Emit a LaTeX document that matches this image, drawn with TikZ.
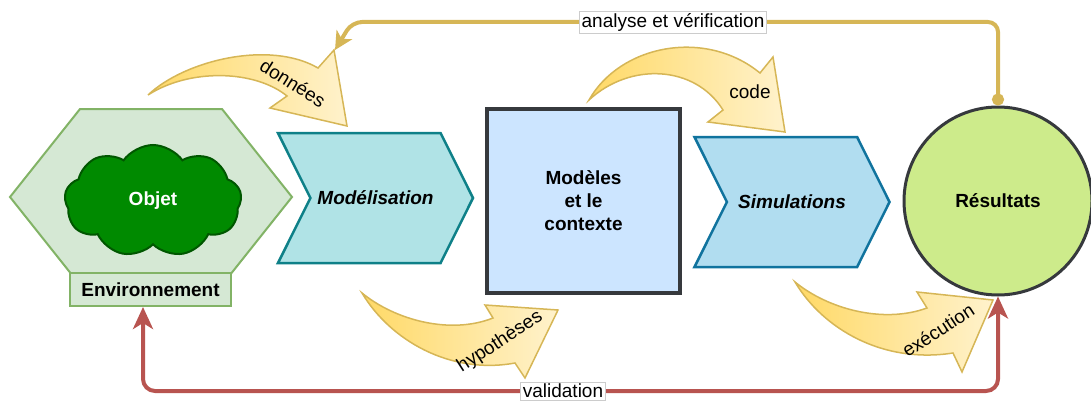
\documentclass[tikz,border=0pt]{standalone}
\usepackage{fontspec}
\setmainfont{Liberation Sans}
\usepackage{tikz}
\usetikzlibrary{arrows.meta,shapes.symbols}
\tikzset{every picture/.style={/utils/exec={\fontsize{19}{23}\selectfont}}}

\definecolor{envfill}{HTML}{D5E8D4}
\definecolor{envdraw}{HTML}{82B366}
\definecolor{objfill}{HTML}{008A00}
\definecolor{objdraw}{HTML}{005700}
\definecolor{modfill}{HTML}{B0E3E6}
\definecolor{moddraw}{HTML}{0E8088}
\definecolor{boxfill}{HTML}{CCE5FF}
\definecolor{boxdraw}{HTML}{36393D}
\definecolor{simfill}{HTML}{B1DDF0}
\definecolor{simdraw}{HTML}{10739E}
\definecolor{resfill}{HTML}{CDEB8B}
\definecolor{yfonce}{HTML}{FFD966}
\definecolor{yclair}{HTML}{FFF2CC}
\definecolor{ybord}{HTML}{D6B656}
\definecolor{rouge}{HTML}{B85450}

\tikzset{
  chevron/.style={signal, signal to=east, signal from=west, signal pointer angle=127,
    minimum width=195, minimum height=130, line width=2.5, font=\bfseries\itshape},
  envbox/.style={rectangle, fill=envfill, draw=envdraw, line width=2,
    minimum width=161, minimum height=33, inner sep=0, font=\bfseries},
  nuage/.style={cloud, cloud puffs=9, cloud puff arc=110, aspect=1.6, fill=objfill, draw=objdraw,
    line width=2, minimum width=177, minimum height=112, text=white, font=\bfseries},
  boite/.style={rectangle, fill=boxfill, draw=boxdraw, line width=3.5,
    minimum width=193, minimum height=184, align=center, font=\bfseries},
  cercle/.style={circle, fill=resfill, draw=boxdraw, line width=3,
    minimum size=188, font=\bfseries},
  courbe/.style={left color=yfonce, right color=yclair, draw=ybord, line width=1.5},
  etiquette/.style={fill=white, draw=gray!40, line width=0.8, inner sep=2},
  verif/.style={draw=ybord, line width=4, rounded corners=10,
    {Circle[length=12]}-{Stealth[length=18,width=18,inset=5]}},
  valid/.style={draw=rouge, line width=4, rounded corners=12,
    {Stealth[length=22,width=20,inset=6]}-{Stealth[length=22,width=20,inset=6]}},
}

\begin{document}
\begin{tikzpicture}[x=1pt,y=-1pt]
  \useasboundingbox (0,0) rectangle (1091,404);

  % environnement et objet
  \filldraw[fill=envfill, draw=envdraw, line width=2]
    (10,197) -- (80,109) -- (222,109) -- (292,197) -- (222,285) -- (80,285) -- cycle;
  \node[nuage] (obj) at (153,201) {Objet};
  \node[envbox] (env) at (150.5,289.5) {Environnement};

  % etapes
  \node[chevron, fill=modfill, draw=moddraw] (modl) at (375.5,198) {Modélisation};
  \node[boite] (mod) at (583.5,201) {Modèles\\et le\\contexte};
  \node[chevron, fill=simfill, draw=simdraw] (sim) at (792,202) {Simulations};
  \node[cercle] (res) at (998,201) {Résultats};

  % fleches courbes
  \shadedraw[courbe] (148,95) .. controls (185,60) and (270,40) .. (318,68)
    -- (334,50) -- (347,126) -- (270,108) -- (287,96)
    .. controls (255,70) and (190,68) .. (148,95) -- cycle;
  \node[rotate=-32] (tdon) at (293,83) {données};

  \shadedraw[courbe] (589,100) .. controls (620,45) and (705,28) .. (760,73)
    -- (773,57) -- (785,132) -- (708,122) -- (723,110)
    .. controls (695,65) and (630,62) .. (589,100) -- cycle;
  \node (tcode) at (750,92) {code};

  \shadedraw[courbe] (362,293) .. controls (390,340) and (450,375) .. (515,363)
    -- (525,378) -- (558,310) -- (485,305) -- (493,318)
    .. controls (450,335) and (395,320) .. (362,293) -- cycle;
  \node[rotate=33] (thyp) at (500,342) {hypothèses};

  \shadedraw[courbe] (795,282) .. controls (823,329) and (883,364) .. (953,353)
    -- (962,372) -- (993,300) -- (917,292) -- (927,308)
    .. controls (883,324) and (828,309) .. (795,282) -- cycle;
  \node[rotate=33] (texe) at (938,330) {exécution};

  % retours
  \coordinate (avcoin) at (352,22);
  \coordinate (avfin) at (335,50);
  \draw[verif] (res.north) |- (avcoin) -- (avfin);
  \node[etiquette] (lav) at (673,22) {analyse et vérification};

  \coordinate (valcoin) at (143,391);
  \draw[valid] (valcoin |- env.south) -- (valcoin) -| (res.south);
  \node[etiquette] (lval) at (563,391) {validation};
\end{tikzpicture}
\end{document}
